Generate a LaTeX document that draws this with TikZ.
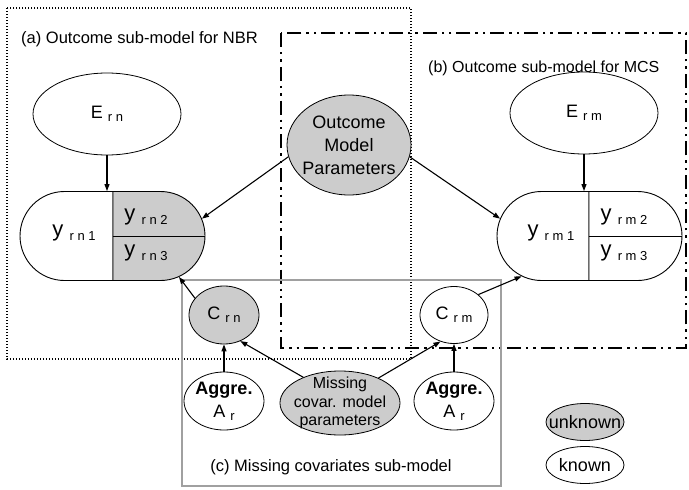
\documentclass[tikz,border=0pt]{standalone}
\usepackage{fontspec}
\setmainfont{Liberation Sans}
\usetikzlibrary{shapes.geometric,shapes.misc,arrows.meta}
\definecolor{nodegray}{RGB}{204,204,204}
\definecolor{boxgray}{RGB}{160,160,160}
% subscript set smaller and a little lower
\newcommand\sbs[1]{\raisebox{-0.35ex}{\fontsize{13}{13}\selectfont #1}}
\newcommand\gp{\hspace{0.28em}}

\begin{document}
\begin{tikzpicture}[x=1pt,y=-1pt,
  every node/.style={font=\fontsize{18}{23}\selectfont, inner sep=0pt},
  var/.style={ellipse, draw, line width=0.8pt, fill=white},
  hidden/.style={var, fill=nodegray},
  link/.style={-{Triangle[length=7pt,width=5pt]}, line width=1.1pt},
  half/.style={rounded rectangle, draw, line width=0.9pt, minimum height=89pt},
  lefthalf/.style={half, rounded rectangle right arc=none, fill=white},
  righthalf/.style={half, rounded rectangle left arc=none},
  dotbox/.style={line width=1.4pt, dash pattern=on 1.4pt off 1.6pt},
  dashbox/.style={line width=2.4pt, dash pattern=on 14pt off 5pt on 2.4pt off 5pt on 2.4pt off 5pt},
  graybox/.style={line width=2pt, draw=boxgray},
  boxlabel/.style={font=\fontsize{16.5}{19}\selectfont},
]
\useasboundingbox (0,0) rectangle (689,490);

% sub-model frames
\draw[dotbox] (7,8) rectangle (411,359);
\draw[dashbox] (281,33) rectangle (686,348);
\draw[graybox] (182,280) rectangle (501,486);

\node[boxlabel, anchor=west] (labA) at (21,39) {(a) Outcome sub-model for NBR};
\node[boxlabel, anchor=west, font=\fontsize{16}{19}\selectfont] (labB) at (428,68)
  {(b) Outcome sub-model for MCS};
\node[boxlabel] (labC) at (331,467) {(c) Missing covariates sub-model};

% outcome model parameters
\node[hidden, minimum width=124pt, minimum height=100pt] (omp) at (349,145) {};
\node[align=center] (omptxt) at (omp) {Outcome\\Model\\Parameters};

% error terms
\node[var, minimum width=148pt, minimum height=82pt] (En) at (107,114)
  {E\gp\sbs{r\gp n}};
\node[var, minimum width=148pt, minimum height=82pt] (Em) at (584,113)
  {E\gp\sbs{r\gp m}};

% outcomes for NBR
\node[lefthalf, minimum width=93pt] (yLn) at (66.5,236) {};
\node[righthalf, minimum width=92pt, fill=nodegray] (yRn) at (159,236) {};
\draw[line width=0.9pt] (yRn.west) -- (yRn.east);
\node[font=\fontsize{22}{22}\selectfont] (yn1) at (74,233) {y\gp\sbs{r\gp n\gp 1}};
\node[font=\fontsize{22}{22}\selectfont] (yn2) at (146,217) {y\gp\sbs{r\gp n\gp 2}};
\node[font=\fontsize{22}{22}\selectfont] (yn3) at (146,253) {y\gp\sbs{r\gp n\gp 3}};

% outcomes for MCS
\node[lefthalf, minimum width=92pt] (yLm) at (543,236) {};
\node[righthalf, minimum width=93pt, fill=white] (yRm) at (635.5,236) {};
\draw[line width=0.9pt] (yRm.west) -- (yRm.east);
\node[font=\fontsize{22}{22}\selectfont] (ym1) at (551,233) {y\gp\sbs{r\gp m\gp 1}};
\node[font=\fontsize{22}{22}\selectfont] (ym2) at (624,217) {y\gp\sbs{r\gp m\gp 2}};
\node[font=\fontsize{22}{22}\selectfont] (ym3) at (624,253) {y\gp\sbs{r\gp m\gp 3}};

% covariates
\node[hidden, minimum width=70pt, minimum height=58pt] (Cn) at (224,315)
  {C\gp\sbs{r\gp n}};
\node[var, minimum width=68pt, minimum height=57pt] (Cm) at (454,315)
  {C\gp\sbs{r\gp m}};

% aggregate covariates and missing-covariate parameters
\node[var, minimum width=80pt, minimum height=58pt] (aggL) at (224,401) {};
\node[align=center] (aggLtxt) at (aggL) {\textbf{Aggre.}\\A\gp\sbs{r}};
\node[var, minimum width=80pt, minimum height=58pt] (aggR) at (454,401) {};
\node[align=center] (aggRtxt) at (aggR) {\textbf{Aggre.}\\A\gp\sbs{r}};
\node[hidden, minimum width=120pt, minimum height=64pt] (mis) at (340,403) {};
\node[align=center, font=\fontsize{16}{18.5}\selectfont] (mistxt) at (mis)
  {Missing\\covar. model\\parameters};

% legend
\node[hidden, minimum width=78pt, minimum height=37pt] (unk) at (585,422) {};
\node (unktxt) at (unk) {unknown};
\node[var, minimum width=78pt, minimum height=37pt] (kno) at (585,465) {};
\node (knotxt) at (kno) {known};

% dependencies
\draw[link] (En.south) -- (En.south |- yLn.north);
\draw[link] (Em.south) -- (Em.south |- yLm.north);
\draw[link] (omp.191) -- (yRn.22);
\draw[link] (omp.-11) -- (yLm.158);
\draw[link] (Cn.150) -- (yRn.-64);
\draw[link] (Cm.40) -- (yLm.-118);
\draw[link] (aggL.north) -- (Cn.south);
\draw[link] (aggR.north) -- (Cm.south);
\draw[link] (mis.145) -- (Cn.-58);
\draw[link] (mis.33) -- (Cm.-117);
\end{tikzpicture}
\end{document}
